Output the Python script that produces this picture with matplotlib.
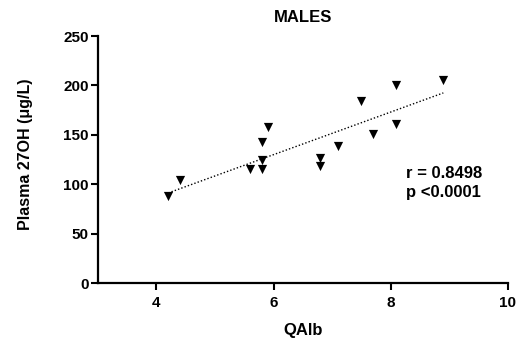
import numpy as np
import matplotlib
matplotlib.use("Agg")
import matplotlib.pyplot as plt

plt.rcParams['font.family'] = ['Liberation Sans', 'DejaVu Sans']

# QAlb vs plasma 27-hydroxycholesterol, male subjects
qalb = [4.2, 4.4, 5.6, 5.8, 5.8, 5.8, 5.9, 6.8, 6.8, 7.1, 7.5, 7.7, 8.1, 8.1, 8.9]
plasma_27oh = [88, 104, 115, 115, 124, 143, 158, 127, 118, 139, 184, 151, 200, 161, 205]
x_ticks = [4, 6, 8, 10]
y_ticks = [0, 50, 100, 150, 200, 250]
stats_text = "r = 0.8498\np <0.0001"

fig = plt.figure(figsize=(5.21, 3.42), dpi=100)
ax = fig.add_axes([0.188, 0.1725, 0.7865, 0.7222])

ax.scatter(qalb, plasma_27oh, marker='v', s=44, color='black', zorder=3, linewidths=0)

# least-squares line across the observed range
slope, intercept = np.polyfit(qalb, plasma_27oh, 1)
xf = np.array([min(qalb), max(qalb)])
ax.plot(xf, slope * xf + intercept, color='black', linestyle=(0, (1, 1.5)), linewidth=1.0, zorder=2)

ax.set_xlim(3, 10)
ax.set_ylim(0, 250)
ax.set_xticks(x_ticks)
ax.set_yticks(y_ticks)
ax.tick_params(axis='both', direction='out', length=5, width=1.5, labelsize=11)
ax.tick_params(axis='y', pad=1.5)
ax.tick_params(axis='x', pad=4)
for lbl in ax.get_xticklabels() + ax.get_yticklabels():
    lbl.set_fontweight('bold')

for side in ('top', 'right'):
    ax.spines[side].set_visible(False)
for side in ('left', 'bottom'):
    ax.spines[side].set_linewidth(1.6)

ax.set_xlabel('QAlb', fontsize=12, fontweight='bold', labelpad=10)
ax.set_ylabel('Plasma 27OH (\u03bcg/L)', fontsize=11.5, fontweight='bold')
ax.yaxis.set_label_coords(-0.158, 0.52)
ax.set_title('MALES', fontsize=12, fontweight='bold', pad=10)

ax.text(8.26, 101, stats_text, fontsize=12, fontweight='bold', ha='left', va='center', linespacing=1.3)

fig.savefig('out.png', dpi=100)
